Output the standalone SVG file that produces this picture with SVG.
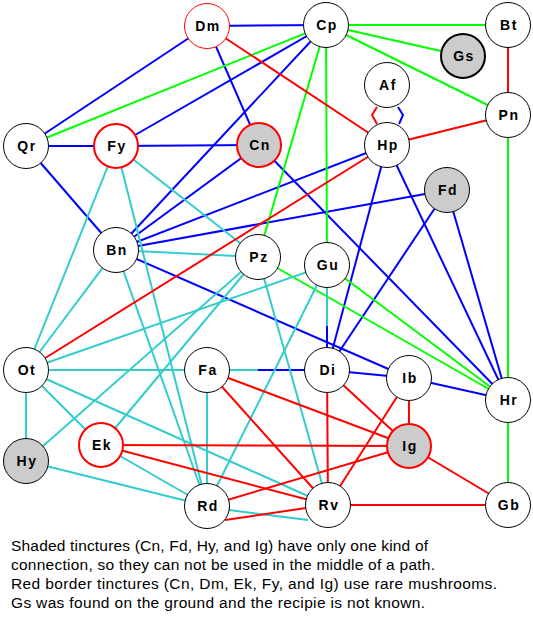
<svg xmlns="http://www.w3.org/2000/svg" width="533" height="637" viewBox="0 0 533 637">
<style>
.b{stroke:#0000ff;stroke-width:2;fill:none}
.r{stroke:#ff0000;stroke-width:2;fill:none}
.g{stroke:#00ff00;stroke-width:2;fill:none}
.c{stroke:#33cccc;stroke-width:2;fill:none}
.n circle{fill:#ffffff;stroke:#000000;stroke-width:1}
.n.rt circle{stroke:#ff0000}
.n.rk circle{stroke:#ff0000;stroke-width:2}
.n.sh circle{fill:#cccccc}
.n.bk circle{stroke-width:2}
.n text{font-family:"Liberation Sans",Arial,sans-serif;font-weight:bold;font-size:14px;letter-spacing:1.5px;text-anchor:middle;fill:#000}
.note{font-family:"Liberation Sans",Arial,sans-serif;font-size:15.5px;fill:#000}
</style>
<rect width="533" height="637" fill="#ffffff"/>
<g id="connectors">
<!-- blue -->
<line class="b" x1="207" y1="26" x2="326" y2="25"/>
<line class="b" x1="207" y1="26" x2="26" y2="146"/>
<line class="b" x1="207" y1="26" x2="259" y2="145"/>
<line class="b" x1="326" y1="25" x2="116" y2="146"/>
<line class="b" x1="326" y1="25" x2="116" y2="250"/>
<line class="b" x1="26" y1="146" x2="116" y2="146"/>
<line class="b" x1="116" y1="146" x2="259" y2="145"/>
<line class="b" x1="26" y1="146" x2="116" y2="250"/>
<line class="b" x1="259" y1="145" x2="116" y2="250"/>
<line class="b" x1="116" y1="250" x2="387" y2="145"/>
<line class="b" x1="116" y1="250" x2="447" y2="190"/>
<line class="b" x1="116" y1="250" x2="409" y2="378"/>
<line class="b" x1="259" y1="145" x2="508" y2="400"/>
<line class="b" x1="387" y1="145" x2="327" y2="370"/>
<line class="b" x1="387" y1="145" x2="508" y2="400"/>
<line class="b" x1="447" y1="190" x2="327" y2="370"/>
<line class="b" x1="447" y1="190" x2="508" y2="400"/>
<line class="b" x1="327" y1="370" x2="409" y2="378"/>
<line class="b" x1="409" y1="378" x2="508" y2="400"/>
<line class="b" x1="258" y1="370" x2="327" y2="370"/>
<line class="b" x1="327" y1="326" x2="327" y2="370"/>
<polyline class="b" points="398,107 403,115 399,124"/>
<!-- green -->
<line class="g" x1="326" y1="25" x2="508" y2="25"/>
<line class="g" x1="326" y1="25" x2="463" y2="56"/>
<line class="g" x1="326" y1="25" x2="508" y2="115"/>
<line class="g" x1="326" y1="25" x2="26" y2="146"/>
<line class="g" x1="326" y1="25" x2="258" y2="257"/>
<line class="g" x1="326" y1="25" x2="327" y2="265"/>
<line class="g" x1="508" y1="115" x2="508" y2="400"/>
<line class="g" x1="508" y1="400" x2="508" y2="505"/>
<line class="g" x1="258" y1="257" x2="508" y2="400"/>
<line class="g" x1="327" y1="265" x2="508" y2="400"/>
<!-- cyan -->
<line class="c" x1="116" y1="146" x2="26" y2="370"/>
<line class="c" x1="116" y1="146" x2="207" y2="506"/>
<line class="c" x1="116" y1="146" x2="258" y2="257"/>
<line class="c" x1="116" y1="250" x2="258" y2="257"/>
<line class="c" x1="116" y1="250" x2="26" y2="370"/>
<line class="c" x1="116" y1="250" x2="207" y2="506"/>
<line class="c" x1="26" y1="370" x2="327" y2="265"/>
<line class="c" x1="258" y1="257" x2="101" y2="445"/>
<line class="c" x1="258" y1="257" x2="26" y2="461"/>
<line class="c" x1="258" y1="257" x2="328" y2="505"/>
<line class="c" x1="26" y1="370" x2="207" y2="370"/>
<line class="c" x1="26" y1="370" x2="26" y2="461"/>
<line class="c" x1="26" y1="370" x2="101" y2="445"/>
<line class="c" x1="26" y1="370" x2="328" y2="505"/>
<line class="c" x1="26" y1="461" x2="207" y2="506"/>
<line class="c" x1="101" y1="445" x2="207" y2="506"/>
<line class="c" x1="207" y1="370" x2="207" y2="506"/>
<line class="c" x1="327" y1="265" x2="207" y2="506"/>
<line class="c" x1="207" y1="370" x2="258" y2="370"/>
<line class="c" x1="327" y1="265" x2="327" y2="326"/>
<line class="c" x1="229" y1="510" x2="308" y2="520"/>
<!-- red -->
<line class="r" x1="207" y1="26" x2="387" y2="145"/>
<line class="r" x1="508" y1="25" x2="508" y2="115"/>
<line class="r" x1="508" y1="115" x2="387" y2="145"/>
<line class="r" x1="387" y1="145" x2="26" y2="370"/>
<line class="r" x1="207" y1="370" x2="409" y2="446"/>
<line class="r" x1="207" y1="370" x2="328" y2="505"/>
<line class="r" x1="101" y1="445" x2="409" y2="446"/>
<line class="r" x1="101" y1="445" x2="328" y2="505"/>
<line class="r" x1="207" y1="506" x2="409" y2="446"/>
<line class="r" x1="327" y1="370" x2="328" y2="505"/>
<line class="r" x1="327" y1="370" x2="409" y2="446"/>
<line class="r" x1="409" y1="378" x2="409" y2="446"/>
<line class="r" x1="409" y1="378" x2="328" y2="505"/>
<line class="r" x1="409" y1="446" x2="508" y2="505"/>
<line class="r" x1="328" y1="505" x2="508" y2="505"/>
<line class="r" x1="225" y1="520" x2="306" y2="508"/>
<polyline class="r" points="377,107 372,115 377,124"/>
</g>
<g id="node-Dm" class="n rt"><circle cx="207" cy="26" r="22.5"/><text x="208" y="31">Dm</text></g>
<g id="node-Cp" class="n"><circle cx="326" cy="25" r="22.5"/><text x="327" y="30">Cp</text></g>
<g id="node-Bt" class="n"><circle cx="508" cy="25" r="22.5"/><text x="509" y="30">Bt</text></g>
<g id="node-Gs" class="n sh bk"><circle cx="463" cy="56" r="22"/><text x="464" y="61">Gs</text></g>
<g id="node-Af" class="n"><circle cx="387" cy="85" r="22.5"/><text x="388" y="90">Af</text></g>
<g id="node-Pn" class="n"><circle cx="508" cy="115" r="22.5"/><text x="509" y="120">Pn</text></g>
<g id="node-Qr" class="n"><circle cx="26" cy="146" r="22.5"/><text x="27" y="151">Qr</text></g>
<g id="node-Fy" class="n rk"><circle cx="116" cy="146" r="22"/><text x="117" y="151">Fy</text></g>
<g id="node-Cn" class="n rk sh"><circle cx="259" cy="145" r="22"/><text x="260" y="150">Cn</text></g>
<g id="node-Hp" class="n"><circle cx="387" cy="145" r="22.5"/><text x="388" y="150">Hp</text></g>
<g id="node-Fd" class="n sh"><circle cx="447" cy="190" r="22.5"/><text x="448" y="195">Fd</text></g>
<g id="node-Bn" class="n"><circle cx="116" cy="250" r="22.5"/><text x="117" y="255">Bn</text></g>
<g id="node-Pz" class="n"><circle cx="258" cy="257" r="22.5"/><text x="259" y="262">Pz</text></g>
<g id="node-Gu" class="n"><circle cx="327" cy="265" r="22.5"/><text x="328" y="270">Gu</text></g>
<g id="node-Ot" class="n"><circle cx="26" cy="370" r="22.5"/><text x="27" y="375">Ot</text></g>
<g id="node-Fa" class="n"><circle cx="207" cy="370" r="22.5"/><text x="208" y="375">Fa</text></g>
<g id="node-Di" class="n"><circle cx="327" cy="370" r="22.5"/><text x="328" y="375">Di</text></g>
<g id="node-Ib" class="n"><circle cx="409" cy="378" r="22.5"/><text x="410" y="383">Ib</text></g>
<g id="node-Hr" class="n"><circle cx="508" cy="400" r="22.5"/><text x="509" y="405">Hr</text></g>
<g id="node-Ek" class="n rk"><circle cx="101" cy="445" r="22"/><text x="102" y="450">Ek</text></g>
<g id="node-Ig" class="n rk sh"><circle cx="409" cy="446" r="22"/><text x="410" y="451">Ig</text></g>
<g id="node-Hy" class="n sh"><circle cx="26" cy="461" r="22.5"/><text x="27" y="466">Hy</text></g>
<g id="node-Rd" class="n"><circle cx="207" cy="506" r="22.5"/><text x="208" y="511">Rd</text></g>
<g id="node-Rv" class="n"><circle cx="328" cy="505" r="22.5"/><text x="329" y="510">Rv</text></g>
<g id="node-Gb" class="n"><circle cx="508" cy="505" r="22.5"/><text x="509" y="510">Gb</text></g>
<g id="notes">
<text class="note" x="11" y="551" textLength="417" lengthAdjust="spacing">Shaded tinctures (Cn, Fd, Hy, and Ig) have only one kind of</text>
<text class="note" x="11" y="570" textLength="424" lengthAdjust="spacing">connection, so they can not be used in the middle of a path.</text>
<text class="note" x="11" y="589" textLength="486" lengthAdjust="spacing">Red border tinctures (Cn, Dm, Ek, Fy, and Ig) use rare mushrooms.</text>
<text class="note" x="11" y="608" textLength="414" lengthAdjust="spacing">Gs was found on the ground and the recipie is not known.</text>
</g>
</svg>
